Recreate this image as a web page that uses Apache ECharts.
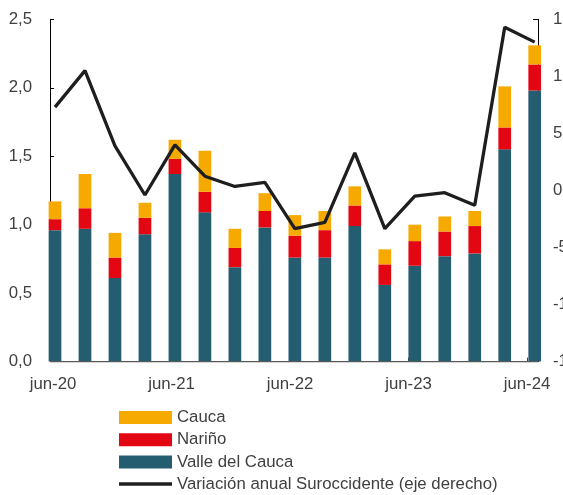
<!DOCTYPE html>
<html><head><meta charset="utf-8">
<script src="https://cdn.jsdelivr.net/npm/echarts@6/dist/echarts.min.js"></script>
<style>html,body{margin:0;padding:0;background:#fff}#c{width:563px;height:495px}</style>
</head><body><div id="c"></div>
<script>
const categories = ['jun-20','sep-20','dic-20','mar-21','jun-21','sep-21','dic-21','mar-22','jun-22','sep-22','dic-22','mar-23','jun-23','sep-23','dic-23','mar-24','jun-24'];
const valle  = [0.96,0.97,0.61,0.93,1.37,1.09,0.69,0.98,0.76,0.76,0.99,0.56,0.70,0.77,0.79,1.55,1.98];
const narino = [0.08,0.15,0.15,0.12,0.11,0.15,0.14,0.12,0.16,0.20,0.15,0.15,0.18,0.18,0.20,0.16,0.19];
const cauca  = [0.13,0.25,0.18,0.11,0.14,0.30,0.14,0.13,0.15,0.14,0.14,0.11,0.12,0.11,0.11,0.30,0.14];
const variacion = [7.3,10.5,3.9,-0.4,4.0,1.25,0.35,0.7,-3.35,-2.8,3.3,-3.35,-0.5,-0.2,-1.3,14.3,13.0];
const leftTicks = {min:0, max:2.5, interval:0.5};
const rightTicks = {min:-15, max:15, interval:5};

const font = 'Liberation Sans, Arial, sans-serif';
const txt = '#404040';
const fs = 16.8;
const chart = echarts.init(document.getElementById('c'), null, {renderer:'canvas'});
const barBase = {type:'bar', stack:'t', barWidth:12.7, clip:false, xAxisIndex:0, yAxisIndex:0};
chart.setOption({
  animation:false,
  grid:[
    {left:55, right:28.3, top:19.3, bottom:133.4, containLabel:false, outerBoundsMode:'none'},
    {left:53, right:36, top:19.3, bottom:133.4, containLabel:false, outerBoundsMode:'none'}
  ],
  xAxis:[
    {type:'category', gridIndex:0, data:categories, boundaryGap:false,
     axisLine:{show:false}, axisTick:{show:false}, axisLabel:{show:false}},
    {type:'category', gridIndex:1, data:categories, boundaryGap:false,
     axisLine:{show:false},
     axisTick:{show:true, inside:true, length:4, interval:3, lineStyle:{color:'#404040'}},
     axisLabel:{interval:3, margin:14, color:txt, fontFamily:font, fontSize:fs, hideOverlap:false}}
  ],
  yAxis:[
    {type:'value', gridIndex:0, min:leftTicks.min, max:leftTicks.max, interval:leftTicks.interval, offset:5,
     axisLine:{show:true, lineStyle:{color:'#000', width:1}},
     axisTick:{show:true, inside:true, length:4, lineStyle:{color:'#000'}},
     splitLine:{show:false},
     axisLabel:{margin:18, color:txt, fontFamily:font, fontSize:fs, formatter:v=>v.toFixed(1).replace('.',',')}},
    {type:'value', gridIndex:0, position:'right', min:rightTicks.min, max:rightTicks.max, interval:rightTicks.interval, offset:3.3,
     axisLine:{show:true, lineStyle:{color:'#000', width:1}},
     axisTick:{show:true, inside:true, length:5, lineStyle:{color:'#000'}},
     splitLine:{show:false},
     axisLabel:{margin:15, color:txt, fontFamily:font, fontSize:fs, formatter:v=>String(v)}},
    {type:'value', gridIndex:1, show:false, min:0, max:1}
  ],
  legend:[
    {orient:'vertical', left:119, top:409, padding:0, itemWidth:53, itemHeight:13, itemGap:5.3,
     textStyle:{color:txt, fontFamily:font, fontSize:fs, lineHeight:17},
     data:[{name:'Cauca', icon:'rect'},{name:'Nariño', icon:'rect'},{name:'Valle del Cauca', icon:'rect'}]},
    {orient:'vertical', left:119, top:475.5, padding:0, itemWidth:53, itemHeight:3.5,
     textStyle:{color:txt, fontFamily:font, fontSize:fs, lineHeight:17},
     data:[{name:'Variación anual Suroccidente (eje derecho)', icon:'rect'}]}
  ],
  graphic:[{type:'line', shape:{x1:50, y1:361.6, x2:538.3, y2:361.6}, style:{stroke:'#595959', lineWidth:1.2}, z:10}],
  series:[
    Object.assign({name:'Valle del Cauca', data:valle, itemStyle:{color:'#245D6F'}}, barBase),
    Object.assign({name:'Nariño', data:narino, itemStyle:{color:'#E30613'}}, barBase),
    Object.assign({name:'Cauca', data:cauca, itemStyle:{color:'#F6AA00'}}, barBase),
    {name:'Variación anual Suroccidente (eje derecho)', type:'line', xAxisIndex:0, yAxisIndex:1, data:variacion,
     symbol:'none', lineStyle:{color:'#1e1e1e', width:3.3}, itemStyle:{color:'#1e1e1e'}, z:5}
  ]
});
</script></body></html>
